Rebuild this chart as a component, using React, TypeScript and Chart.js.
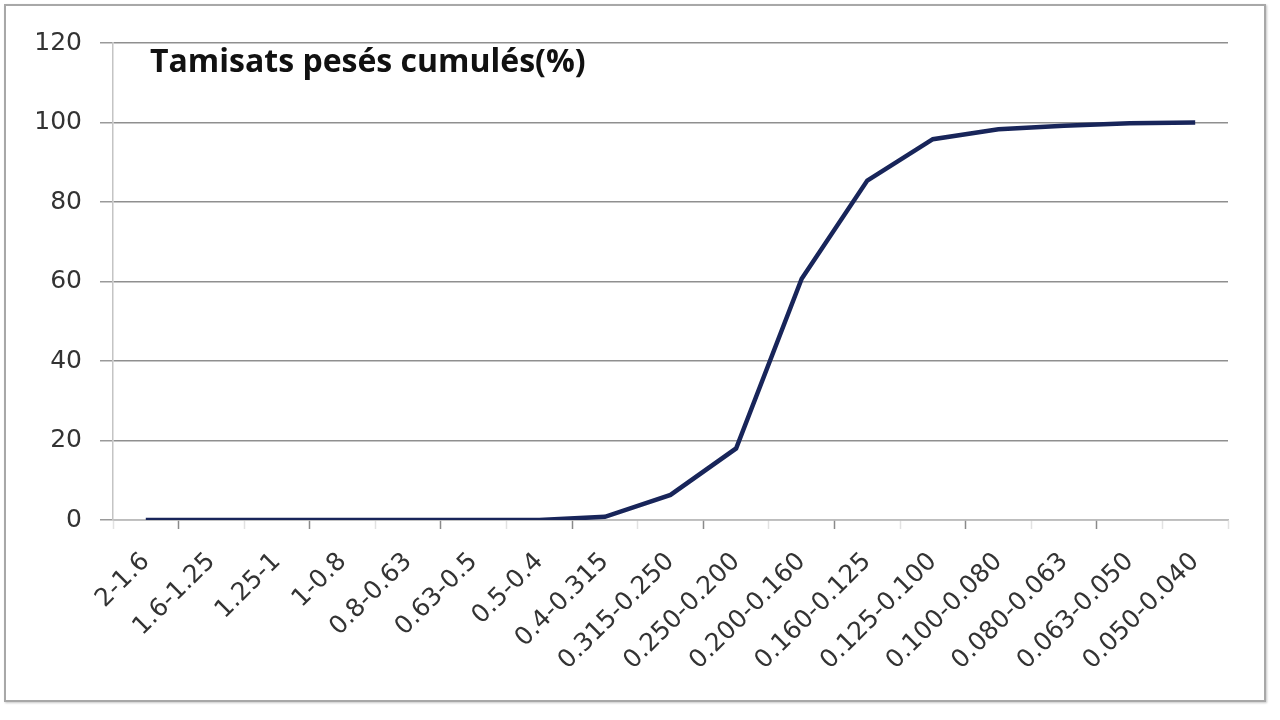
import React, { useEffect, useRef } from 'react';
import { Chart, registerables } from 'chart.js';

Chart.register(...registerables);

const categories = [
  '2-1.6', '1.6-1.25', '1.25-1', '1-0.8', '0.8-0.63', '0.63-0.5', '0.5-0.4',
  '0.4-0.315', '0.315-0.250', '0.250-0.200', '0.200-0.160', '0.160-0.125',
  '0.125-0.100', '0.100-0.080', '0.080-0.063', '0.063-0.050', '0.050-0.040',
];
const cumulativePercent = [0, 0, 0, 0, 0, 0, 0, 0.8, 6.3, 18.0, 60.7, 85.4, 95.8, 98.3, 99.2, 99.8, 100];
const yMin = 0;
const yMax = 120;
const yStep = 20;
const chartTitle = 'Tamisats pesés cumulés(%)';

const titlePlugin = {
  id: 'innerTitle',
  afterDraw(chart: any) {
    const ctx = chart.ctx;
    ctx.save();
    ctx.font = 'bold 32px "Open Sans"';
    ctx.fillStyle = '#111';
    ctx.textAlign = 'left';
    ctx.textBaseline = 'alphabetic';
    ctx.fillText(chartTitle, chart.chartArea.left + 37, chart.chartArea.top + 29);
    ctx.restore();
  },
};

export default function App() {
  const ref = useRef<HTMLCanvasElement | null>(null);
  useEffect(() => {
    if (!ref.current) return;
    const chart = new Chart(ref.current, {
      type: 'line',
      data: {
        labels: categories,
        datasets: [
          {
            label: chartTitle,
            data: cumulativePercent,
            borderColor: '#18255a',
            borderWidth: 4.5,
            pointRadius: 0,
            tension: 0,
            fill: false,
          },
        ],
      },
      options: {
        responsive: false,
        animation: false,
        layout: { padding: { top: 43, right: 52, left: 0, bottom: 0 } },
        plugins: { legend: { display: false }, tooltip: { enabled: false }, title: { display: false } },
        scales: {
          x: {
            offset: true,
            afterFit: (s: any) => { s.height = 200; },
            grid: {
              offset: true,
              drawOnChartArea: false,
              tickLength: 9,
              tickColor: (c: any) => (c.index % 2 === 1 ? '#8a8a8a' : '#e2e2e2'),
              tickWidth: 1.5,
            },
            border: { display: true, color: '#bdbdbd', width: 1.5 },
            ticks: {
              autoSkip: false,
              maxRotation: 45,
              minRotation: 45,
              padding: 18,
              color: '#333',
              font: { family: 'DejaVu Sans', size: 25 },
            },
          },
          y: {
            min: yMin,
            max: yMax,
            afterFit: (s: any) => { s.width = 113; },
            grid: {
              color: '#8f8f8f',
              lineWidth: 1.5,
              tickLength: 13,
              tickColor: '#9a9a9a',
            },
            border: { display: true, color: '#c4c4c4', width: 1.5 },
            ticks: {
              stepSize: yStep,
              padding: 18,
              color: '#333',
              font: { family: 'DejaVu Sans', size: 25 },
            },
          },
        },
      },
      plugins: [titlePlugin],
    });
    return () => chart.destroy();
  }, []);

  return (
    <div style={{ position: 'fixed', left: 0, top: 0, width: 1280, height: 720, background: '#fff' }}>
      <div
        style={{
          position: 'absolute', left: 4, top: 4, width: 1258, height: 694,
          border: '2px solid #a8a8a8', boxShadow: '1px 1px 2px #c8c8c8',
        }}
      />
      <canvas ref={ref} width={1280} height={720} style={{ position: 'absolute', left: 0, top: 0, width: 1280, height: 720 }} />
    </div>
  );
}
